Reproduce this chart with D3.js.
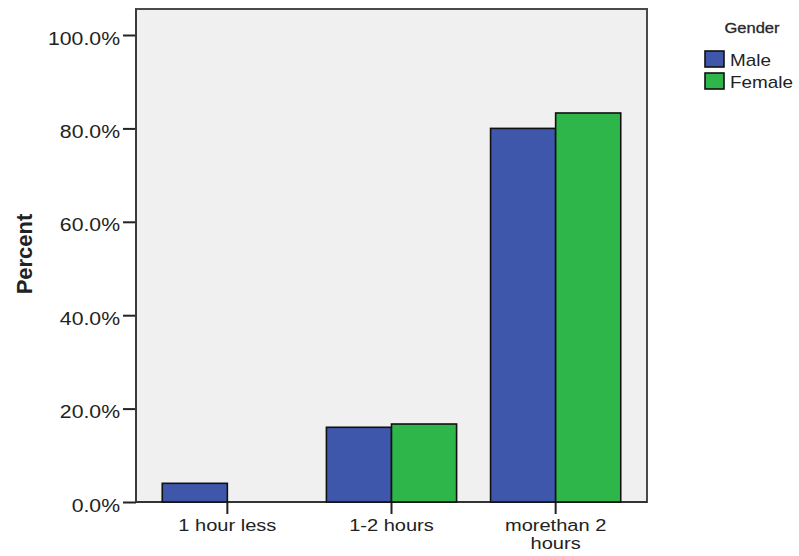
<!DOCTYPE html>
<html>
<head>
<meta charset="utf-8">
<script src="https://cdn.jsdelivr.net/npm/d3@7"></script>
<style>
  html, body { margin: 0; padding: 0; background: #fff; }
  svg { display: block; }
  text { font-family: "Liberation Sans", Arial, sans-serif; fill: #222; }
</style>
</head>
<body>
<svg id="chart" width="799" height="556"></svg>
<script>
// ---- data ----
const categories = ["1 hour less", "1-2 hours", "morethan 2 hours"];
const categoryLines = [["1 hour less"], ["1-2 hours"], ["morethan 2", "hours"]];
const series = ["Male", "Female"];
const maleValues = [4.0, 16.0, 80.0];
const femaleValues = [0.0, 16.7, 83.3];
const yTicks = [0, 20, 40, 60, 80, 100];
const legendTitle = "Gender";
const yTitle = "Percent";
const seriesColors = ["#3e57ab", "#2fb64a"];

// ---- layout ----
const SX = 1.18; // horizontal text stretch as in reference
const plotLeft = 136, plotRight = 647, plotTop = 9, plotBottom = 502;
const svg = d3.select("#chart");

const x = d3.scaleBand().domain(categories).range([plotLeft, plotRight])
  .paddingInner(0.207).paddingOuter(0.16);
const xSub = d3.scaleBand().domain(series).range([0, x.bandwidth()]);
const y = d3.scaleLinear().domain([0, 100]).range([plotBottom, 35]);
const color = d3.scaleOrdinal().domain(series).range(seriesColors);

function stretchAt(sel, cx) {
  sel.attr("transform", `translate(${cx},0) scale(${SX},1) translate(${-cx},0)`);
}

// plot background + frame
svg.append("rect")
  .attr("x", plotLeft).attr("y", plotTop)
  .attr("width", plotRight - plotLeft).attr("height", plotBottom - plotTop)
  .attr("fill", "#f0f0f0")
  .attr("stroke", "#4a4a4a").attr("stroke-width", 2);

// x axis baseline + ticks (drawn under bars)
const xAxis = svg.append("g")
  .attr("transform", `translate(0,${plotBottom})`)
  .call(d3.axisBottom(x).tickSize(12).tickFormat(""));
xAxis.select(".domain").attr("stroke", "#333").attr("stroke-width", 2)
  .attr("d", `M${plotLeft},0H${plotRight}`);
xAxis.selectAll(".tick line").attr("stroke", "#222").attr("stroke-width", 2);
xAxis.selectAll(".tick text").remove();

// bars
const rows = categories.map((c, i) => ({ cat: c, values: [maleValues[i], femaleValues[i]] }));
const groups = svg.append("g").selectAll("g").data(rows).join("g")
  .attr("transform", d => `translate(${x(d.cat)},0)`);
groups.selectAll("rect")
  .data(d => series.map((s, j) => ({ s, v: d.values[j] })))
  .join("rect")
  .attr("x", d => xSub(d.s))
  .attr("y", d => y(d.v))
  .attr("width", xSub.bandwidth())
  .attr("height", d => y(0) - y(d.v))
  .attr("fill", d => color(d.s))
  .attr("stroke", "#111")
  .attr("stroke-width", d => d.v === 0 ? 2.4 : 1.6);

// y axis
const yAxis = svg.append("g")
  .attr("transform", `translate(${plotLeft},0)`)
  .call(d3.axisLeft(y).tickValues(yTicks).tickSize(13).tickPadding(3)
    .tickFormat(d => d3.format(".1f")(d) + "%"));
yAxis.select(".domain").remove();
yAxis.selectAll(".tick line").attr("stroke", "#222").attr("stroke-width", 2);
yAxis.selectAll(".tick text")
  .attr("font-size", 18).attr("fill", "#2a2a2a")
  .attr("dy", "0.5em")
  .call(s => stretchAt(s, -16));

// left axis line
svg.append("line")
  .attr("x1", plotLeft).attr("x2", plotLeft).attr("y1", plotTop).attr("y2", plotBottom)
  .attr("stroke", "#3a3a3a").attr("stroke-width", 2);

// x category labels
categories.forEach((c, i) => {
  const cx = x(c) + x.bandwidth() / 2;
  const t = svg.append("text")
    .attr("text-anchor", "middle")
    .attr("font-size", 17).attr("fill", "#2a2a2a");
  categoryLines[i].forEach((line, k) => {
    t.append("tspan").attr("x", cx).attr("y", 531 + k * 18).text(line);
  });
  stretchAt(t, cx);
});

// y title
svg.append("text")
  .attr("transform", `translate(32,254) rotate(-90)`)
  .attr("text-anchor", "middle")
  .attr("font-size", 22).attr("font-weight", "bold").attr("fill", "#111")
  .text(yTitle);

// legend
const lt = svg.append("text")
  .attr("x", 752).attr("y", 33).attr("text-anchor", "middle")
  .attr("font-size", 14).attr("fill", "#333")
  .attr("stroke", "#333").attr("stroke-width", 0.3)
  .text(legendTitle);
stretchAt(lt, 752);

const legend = svg.append("g").selectAll("g").data(series).join("g")
  .attr("transform", (d, i) => `translate(705,${51 + i * 22})`);
legend.append("rect")
  .attr("width", 19).attr("height", 16)
  .attr("fill", d => color(d))
  .attr("stroke", "#111").attr("stroke-width", 1.6);
legend.append("text")
  .attr("x", 25).attr("y", 14.5)
  .attr("font-size", 16).attr("fill", "#222")
  .text(d => d)
  .call(s => stretchAt(s, 25));
</script>
</body>
</html>
